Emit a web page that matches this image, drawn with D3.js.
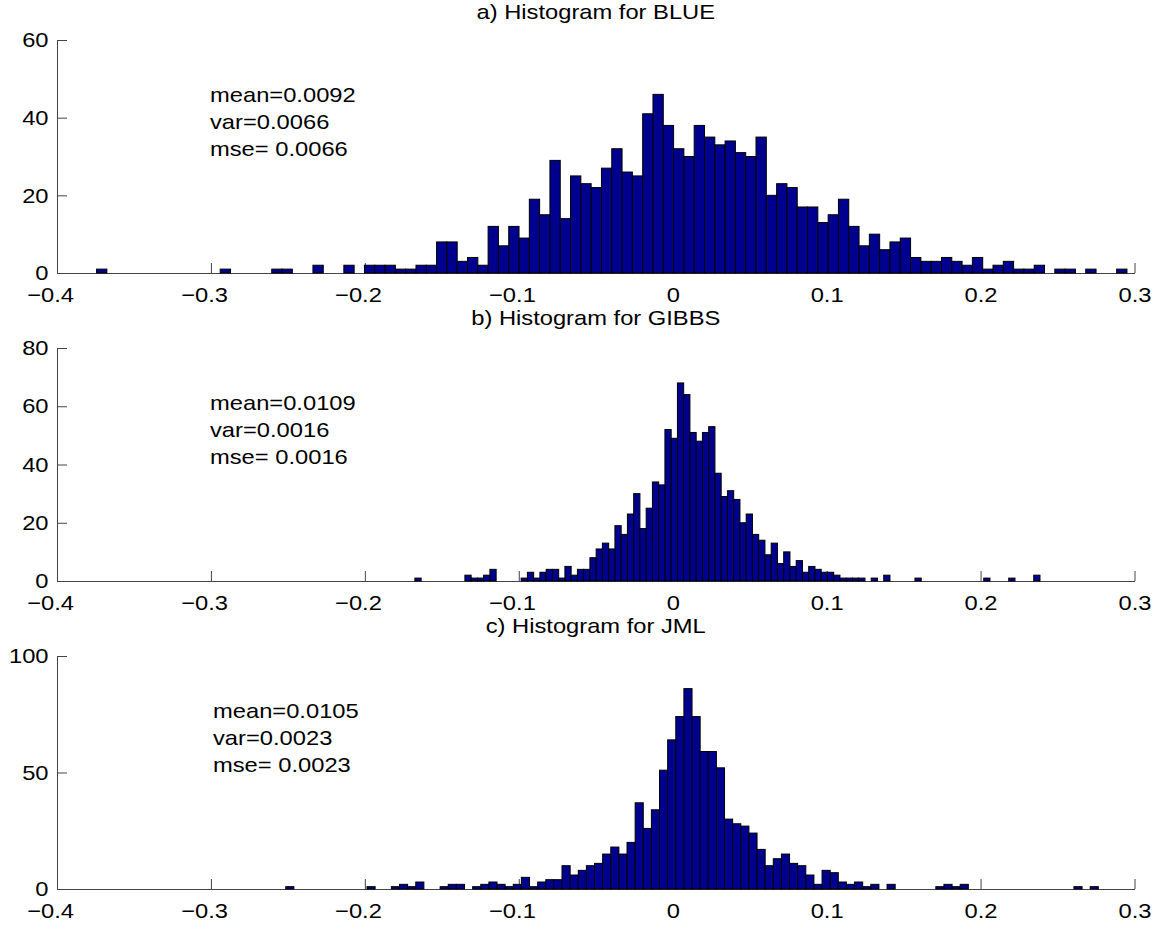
<!DOCTYPE html>
<html>
<head>
<meta charset="utf-8">
<script src="https://cdn.jsdelivr.net/npm/d3@7"></script>
<style>
    body { margin: 0; background: #fff; }
    svg text { font-family: "Liberation Sans", Arial, Helvetica, sans-serif; fill: #000; }
</style>
</head>
<body>
<div id="ground"></div>
<script>
// histogram counts, 100 bins each
const countsBlue = [
    1, 0, 0, 0, 0, 0, 0, 0, 0, 0,
    0, 0, 1, 0, 0, 0, 0, 1, 1, 0,
    0, 2, 0, 0, 2, 0, 2, 2, 2, 1,
    1, 2, 2, 8, 8, 3, 4, 2, 12, 7,
    12, 9, 19, 15, 29, 14, 25, 23, 22, 27,
    32, 26, 25, 41, 46, 38, 32, 30, 38, 35,
    33, 34, 31, 30, 35, 20, 23, 22, 17, 17,
    13, 15, 19, 12, 7, 10, 6, 8, 9, 4,
    3, 3, 4, 3, 2, 4, 1, 2, 3, 1,
    1, 2, 0, 1, 1, 0, 1, 0, 0, 1
];
const countsGibbs = [
    1, 0, 0, 0, 0, 0, 0, 0, 2, 1,
    1, 2, 4, 0, 0, 0, 0, 1, 3, 1,
    3, 4, 4, 1, 5, 2, 4, 4, 8, 11,
    13, 11, 19, 16, 23, 30, 18, 25, 34, 33,
    52, 49, 68, 64, 51, 48, 51, 53, 37, 29,
    31, 28, 20, 23, 16, 14, 9, 13, 6, 10,
    5, 7, 3, 5, 4, 3, 3, 2, 1, 1,
    1, 1, 0, 1, 0, 2, 0, 0, 0, 0,
    1, 0, 0, 0, 0, 0, 0, 0, 0, 0,
    0, 1, 0, 0, 0, 1, 0, 0, 0, 2
];
const countsJml = [
    1, 0, 0, 0, 0, 0, 0, 0, 0, 0,
    1, 0, 0, 1, 2, 1, 3, 0, 0, 1,
    2, 2, 0, 1, 2, 3, 2, 1, 2, 5,
    1, 3, 4, 4, 10, 6, 8, 10, 11, 15,
    18, 15, 20, 37, 26, 34, 51, 64, 74, 86,
    74, 59, 59, 52, 30, 28, 27, 24, 17, 10,
    13, 15, 11, 10, 6, 2, 8, 7, 3, 2,
    3, 1, 2, 0, 2, 0, 0, 0, 0, 0,
    1, 2, 1, 2, 0, 0, 0, 0, 0, 0,
    0, 0, 0, 0, 0, 0, 0, 1, 0, 1
];

// sample min / max that the bins span
const binRanges = [[-0.3743, 0.2951], [-0.1675, 0.2386], [-0.2514, 0.2765]];

const titles = ["a) Histogram for BLUE", "b) Histogram for GIBBS", "c) Histogram for JML"];
const stats = [
    ["mean=0.0092", "var=0.0066", "mse= 0.0066"],
    ["mean=0.0109", "var=0.0016", "mse= 0.0016"],
    ["mean=0.0105", "var=0.0023", "mse= 0.0023"]
];

const xTicks = [-0.4, -0.3, -0.2, -0.1, 0, 0.1, 0.2, 0.3];
const yMax = [60, 80, 100];
const yTicks = [[0, 20, 40, 60], [0, 20, 40, 60, 80], [0, 50, 100]];

document.addEventListener("DOMContentLoaded", function () {

    const W = 1161, H = 925,
        left = 57, right = 1134.5,
        bottoms = [273, 581, 889], plotH = 233,
        titleGap = [21, 23, 23],
        statX = [210, 210, 213],
        stretch = 1.13, fs = 21,
        barFill = "#00008f", axisCol = "#444";

    const allCounts = [countsBlue, countsGibbs, countsJml];

    let svg = d3.select("#ground")
        .append("svg")
        .attr("width", W)
        .attr("height", H);

    svg.append("rect").attr("width", W).attr("height", H).attr("fill", "#fff");

    let x = d3.scaleLinear().domain([-0.4, 0.3]).range([left, right]);

    let fmt = function (d) {
        if (d === 0) return "0";
        return (d < 0 ? "\u2212" : "") + Math.abs(d).toFixed(1);
    };

    allCounts.forEach(function (counts, p) {
        let bottom = bottoms[p], top = bottom - plotH;
        let y = d3.scaleLinear().domain([0, yMax[p]]).range([bottom, top]);
        let gr = svg.append("g");

        // axes first, bars are drawn above them
        let xa = gr.append("g")
            .attr("transform", "translate(0," + bottom + ")")
            .call(d3.axisBottom(x).tickValues(xTicks).tickFormat(fmt)
                .tickSizeInner(-10).tickSizeOuter(0).tickPadding(14));

        let ya = gr.append("g")
            .attr("transform", "translate(" + left + ",0)")
            .call(d3.axisLeft(y).tickValues(yTicks[p])
                .tickSizeInner(-10).tickSizeOuter(0).tickPadding(7.5));

        [xa, ya].forEach(function (a) {
            a.attr("font-size", fs).attr("font-family", null);
            a.selectAll("path, line").attr("stroke", axisCol);
            a.selectAll("text").attr("fill", "#000")
                .attr("transform", "scale(" + stretch + ",1)");
        });
        // matlab centres the digits, the minus hangs to the left
        xa.selectAll("text").attr("dx", d => d < 0 ? "-0.29em" : null);

        let lo = binRanges[p][0], w = (binRanges[p][1] - binRanges[p][0]) / counts.length;

        gr.append("g").selectAll("rect")
            .data(counts)
            .join("rect")
            .attr("x", (d, i) => x(lo + i * w))
            .attr("width", (d, i) => x(lo + (i + 1) * w) - x(lo + i * w))
            .attr("y", d => y(d))
            .attr("height", d => y(0) - y(d))
            .attr("fill", barFill)
            .attr("stroke", "#000")
            .attr("stroke-width", 1);

        gr.append("text")
            .attr("transform", "translate(" + ((left + right) / 2) + "," + (top - titleGap[p]) + ") scale(" + stretch + ",1)")
            .attr("text-anchor", "middle")
            .attr("font-size", fs)
            .text(titles[p]);

        stats[p].forEach(function (s, k) {
            gr.append("text")
                .attr("transform", "translate(" + statX[p] + "," + (top + 62 + k * 27) + ") scale(" + stretch + ",1)")
                .attr("font-size", fs)
                .text(s);
        });
    });

});
</script>
</body>
</html>
